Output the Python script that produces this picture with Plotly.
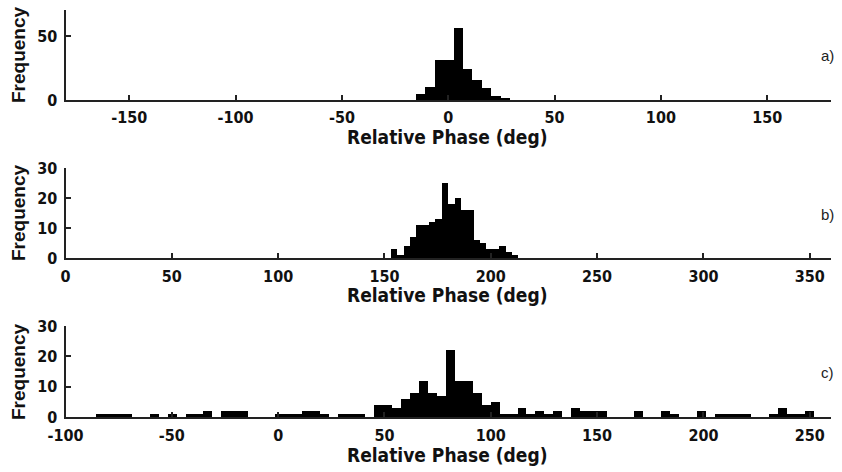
import numpy as np
import plotly.graph_objects as go

# ---------------- data ----------------
# panel a: 10 histogram bins spanning the data range
a_range = [-15.45, 28.8]
a_counts = [4, 10, 31, 31, 56, 24, 15, 9, 3, 1]
# panel b: 20 bins
b_range = [152.8, 212.7]
b_counts = [3, 1, 4, 7, 11, 11, 12, 13, 25, 18, 20, 16, 16, 6, 5, 3, 3, 4, 2, 1]
# panel c: 80 bins
c_range = [-86.0, 251.6]
c_counts = [1, 1, 1, 1, 0, 0, 1, 0, 1, 0,
            1, 1, 2, 0, 2, 2, 2, 0, 0, 0,
            1, 1, 1, 2, 2, 1, 0, 1, 1, 1,
            0, 4, 4, 3, 6, 8, 12, 8, 7, 22,
            12, 12, 8, 4, 5, 1, 1, 3, 1, 2,
            1, 2, 0, 3, 2, 2, 2, 0, 0, 0,
            2, 0, 0, 2, 1, 0, 0, 2, 0, 1,
            1, 1, 1, 0, 0, 1, 3, 1, 1, 2]

a_xlim = [-180, 180]
b_xlim = [0, 360]
c_xlim = [-100, 260]
a_ylim = [0, 70]
b_ylim = [0, 30]
c_ylim = [0, 30]
a_xticks = [-150, -100, -50, 0, 50, 100, 150]
a_xtext = ["-150", "-100", "-50", "0", "50", "100", "150"]
b_xticks = [0, 50, 100, 150, 200, 250, 300, 350]
b_xtext = ["0", "50", "100", "150", "200", "250", "300", "350"]
c_xticks = [-100, -50, 0, 50, 100, 150, 200, 250]
c_xtext = ["-100", "-50", "0", "50", "100", "150", "200", "250"]
a_yticks = [0, 50]
bc_yticks = [0, 10, 20, 30]
panel_labels = ["a)", "b)", "c)"]
x_title = "Relative Phase (deg)"
y_title = "Frequency"

# ---------------- figure ----------------
W, H = 842, 472
XL, XR = 65.5, 831.0
panels_px = [(10.4, 100.0), (168.0, 258.3), (326.0, 417.3)]

def bins(rng, counts):
    n = len(counts)
    edges = np.linspace(rng[0], rng[1], n + 1)
    centers = (edges[:-1] + edges[1:]) / 2
    return centers, (rng[1] - rng[0]) / n

fig = go.Figure()
data = [(a_range, a_counts), (b_range, b_counts), (c_range, c_counts)]
xlims = [a_xlim, b_xlim, c_xlim]
ylims = [a_ylim, b_ylim, c_ylim]
xticks = [(a_xticks, a_xtext), (b_xticks, b_xtext), (c_xticks, c_xtext)]
yticks = [a_yticks, bc_yticks, bc_yticks]

fam = "DejaVu Sans Condensed, Liberation Sans Narrow, DejaVu Sans, sans-serif"
tickfont = dict(family=fam, size=16, color="#111", weight="bold")
axcol = "#222"

for i, ((rng, counts), xl, yl, (xt, xtt), yt) in enumerate(zip(data, xlims, ylims, xticks, yticks)):
    cx, w = bins(rng, counts)
    n = "" if i == 0 else str(i + 1)
    fig.add_trace(go.Bar(x=cx, y=counts, width=w, marker=dict(color="black", line=dict(width=0)),
                         xaxis="x" + n, yaxis="y" + n, showlegend=False, hoverinfo="skip"))
    top, bot = panels_px[i]
    fig.layout["xaxis" + n] = dict(domain=[XL / W, XR / W], range=xl, anchor="y" + n,
                                   tickvals=xt, ticktext=xtt, ticks="inside", ticklen=5,
                                   tickwidth=1.5, tickcolor=axcol, showline=True, linecolor=axcol,
                                   linewidth=2, showgrid=False, zeroline=False, tickfont=tickfont,
                                   automargin=False, ticklabelstandoff=2)
    fig.layout["yaxis" + n] = dict(domain=[1 - bot / H, 1 - top / H], range=yl, anchor="x" + n,
                                   tickvals=yt, ticks="inside", ticklen=5, tickwidth=1.5,
                                   tickcolor=axcol, showline=True, linecolor=axcol, linewidth=2,
                                   showgrid=False, zeroline=False, tickfont=tickfont,
                                   automargin=False, ticklabelstandoff=3)

anns = []
title_font = dict(family=fam, size=19, color="#111", weight="bold")
yfont = dict(family="Liberation Sans, Arial, sans-serif", size=19, color="#111", weight="bold")
lab_font = dict(family="Liberation Sans, Arial, sans-serif", size=15, color="#222")
xt_y = [137, 295, 455]
yt_y = [55, 213, 372]
lab_y = [55, 214, 372]
for i in range(3):
    anns.append(dict(x=447 / W, y=1 - xt_y[i] / H, xref="paper", yref="paper", text=x_title,
                     showarrow=False, font=title_font, xanchor="center", yanchor="middle"))
    anns.append(dict(x=18 / W, y=1 - yt_y[i] / H, xref="paper", yref="paper", text=y_title,
                     showarrow=False, font=yfont, textangle=-90, xanchor="center", yanchor="middle"))
    anns.append(dict(x=827 / W, y=1 - lab_y[i] / H, xref="paper", yref="paper", text=panel_labels[i],
                     showarrow=False, font=lab_font, xanchor="center", yanchor="middle"))

fig.update_layout(width=W, height=H, margin=dict(l=0, r=0, t=0, b=0),
                  paper_bgcolor="white", plot_bgcolor="white", bargap=0,
                  annotations=anns)
fig.write_html("out.html", config={"displayModeBar": False},
               post_script="document.body.style.margin='0';document.body.style.padding='0';")
